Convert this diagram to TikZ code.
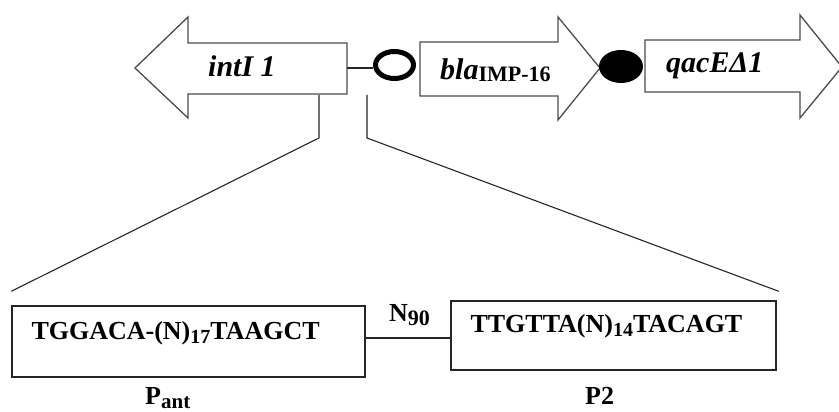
\documentclass[tikz,border=0pt]{standalone}
\usepackage{fontspec}
\setmainfont{Liberation Serif}
\usetikzlibrary{shapes.geometric,positioning}
\newcommand{\lowsub}[2][20]{\raisebox{-4pt}{\fontsize{#1}{#1}\selectfont #2}}
\tikzset{
  gene/.style={draw=black!70, line width=1.3pt, fill=white},
  seqbox/.style={draw=black!85, line width=1.4pt, rectangle, inner sep=0pt},
  link/.style={draw=black!85, line width=1.1pt},
  genelabel/.style={anchor=base west, inner sep=0pt, font=\fontsize{30}{30}\selectfont\bfseries\itshape},
  seqlabel/.style={anchor=base west, inner sep=0pt, font=\fontsize{26}{26}\selectfont\bfseries},
}
\begin{document}
\begin{tikzpicture}[x=1pt,y=1pt]
		\useasboundingbox (0,0) rectangle (839,412);
		
		% gene cassette
		\draw[gene] (347,369) -- (188,369) -- (188,395) -- (135,344) -- (188,294) -- (188,318) -- (347,318) -- cycle;
		\draw[gene] (420,370) -- (558,370) -- (558,395) -- (600,344) -- (558,292) -- (558,316) -- (420,316) -- cycle;
		\draw[gene] (645,372) -- (800,372) -- (800,397) -- (842,345) -- (800,294) -- (800,320) -- (645,320) -- cycle;
		\coordinate (intend) at (347,344);
		\coordinate (intfoot) at (319,317);
		\coordinate (blafoot) at (367,317);
		
		\node[genelabel] (intlbl) at (208,335) {intI 1};
		\node[genelabel] (blalbl) at (440,332) {bla\raisebox{-2pt}{\fontsize{22}{22}\selectfont\upshape IMP-16}};
		\node[genelabel] (qaclbl) at (666,339) {qacEΔ1};
		
		\node[draw, ellipse, line width=5pt, minimum width=38, minimum height=27, inner sep=0pt] (intsite) at (394.5,347) {};
		\node[fill, ellipse, minimum width=44, minimum height=33, inner sep=0pt] (attsite) at (621,345.5) {};
		\draw[link] (intend) -- (intend -| intsite.west);
		
		% promoter region
		\node[seqbox, minimum width=353, minimum height=71] (pant) at (188.5,70.5) {};
		\node[seqbox, minimum width=325, minimum height=69] (ptwo) at (613.5,76.5) {};
		\node[seqlabel] (pantseq) at ([shift={(20,1.5)}]pant.west) {TGGACA-(N)\lowsub{17}TAAGCT};
		\node[seqlabel] (ptwoseq) at ([shift={(20,2.5)}]ptwo.west) {TTGTTA(N)\lowsub{14}TACAGT};
		\draw[link] ([yshift=3.5]pant.east) -- ([yshift=-2.5]ptwo.west);
		\node[seqlabel] (spacer) at (389,90) {N\lowsub[22]{90}};
		\node[seqlabel] (pantname) at (145,7) {P\lowsub[21]{ant}};
		\node[seqlabel] (ptwoname) at (585,7) {P2};
		
		\draw[link] (intfoot) -- ++(0,-43) -- ([yshift=14]pant.north west);
		\draw[link] (blafoot) -- ++(0,-43) -- ([shift={(2,9)}]ptwo.north east);
		
\end{tikzpicture}
\end{document}
